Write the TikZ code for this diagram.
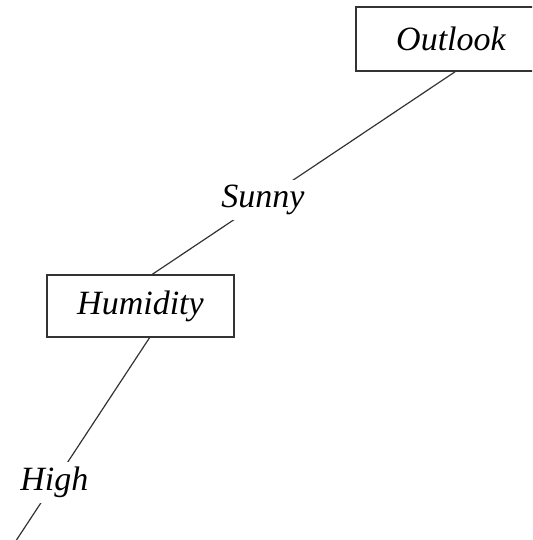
\documentclass[tikz,border=0pt]{standalone}
\usepackage{fontspec}
\setmainfont{Liberation Serif}
\begin{document}
\begin{tikzpicture}[x=1pt,y=1pt,
  treebox/.style={draw=black!80,line width=1.6pt,rectangle,inner sep=0pt,
    font=\fontsize{34}{40}\selectfont\itshape},
  edgelabel/.style={fill=white,inner sep=5pt,font=\fontsize{34}{40}\selectfont\itshape},
  branch/.style={draw=black!80,line width=1.2pt}]
\clip (0,0) rectangle (532,-540);
\fill[white] (0,0) rectangle (532,-540);
\node[treebox,minimum width=190pt,minimum height=64pt] (o) at (451,-39) {Outlook};
\node[treebox,minimum width=187pt,minimum height=62pt] (h) at (140.5,-306) {Humidity};
\coordinate (end) at (2,-562);
\draw[branch] ([xshift=4pt]o.south) -- node[edgelabel,pos=0.635] (s) {Sunny} ([xshift=12pt]h.north);
\draw[branch] ([xshift=9pt]h.south) -- node[edgelabel,pos=0.645] (hi) {High} (end);
\end{tikzpicture}
\end{document}
